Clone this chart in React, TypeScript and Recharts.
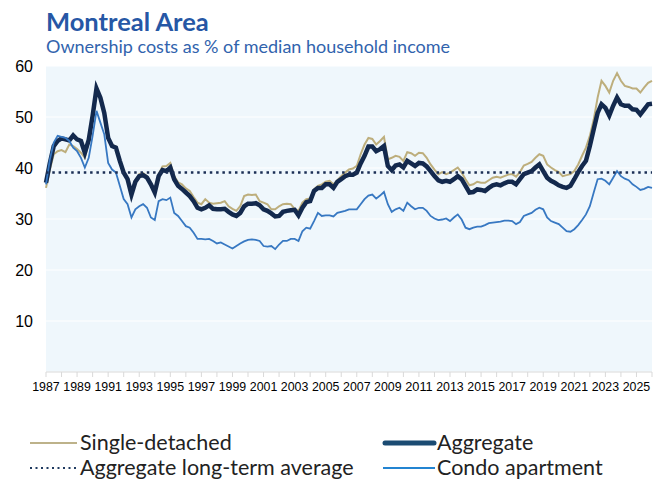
import { LineChart, Line, XAxis, YAxis, CartesianGrid, ReferenceLine } from 'recharts'

const START_YEAR = 1987

// quarterly values, 1987Q1 onward
const singleDetached = [
  36.1, 39.7, 42.7, 43.3, 43.5, 43.1, 44.6, 44.3, 43.7, 43.0, 42.0, 45.0, 49.9, 55.1, 53.5, 50.5, 45.9, 44.5, 44.2, 41.6,
  39.3, 38.0, 35.0, 37.6, 38.8, 39.0, 38.4, 37.0, 35.4, 38.8, 40.3, 40.4, 41.0, 38.4, 37.2, 36.8, 36.0, 35.5, 34.3, 33.2,
  32.9, 33.9, 33.2, 33.0, 33.1, 33.2, 33.5, 32.5, 32.0, 31.6, 32.5, 34.5, 34.8, 34.7, 34.8, 33.5, 33.2, 32.9, 31.9, 31.9,
  32.5, 32.9, 33.0, 32.9, 32.0, 31.6, 33.2, 33.9, 34.0, 35.8, 36.5, 36.8, 37.3, 37.5, 36.8, 37.6, 38.4, 39.1, 39.7, 39.9,
  40.4, 42.7, 44.6, 45.9, 45.7, 44.6, 45.3, 46.1, 41.7, 42.0, 42.4, 42.2, 41.4, 43.1, 42.9, 42.4, 43.0, 42.9, 42.0, 40.7,
  39.7, 38.8, 39.2, 38.8, 39.1, 39.6, 40.1, 39.1, 37.8, 36.6, 36.8, 37.3, 37.1, 37.1, 37.6, 38.1, 38.3, 38.1, 38.4, 38.7,
  38.8, 38.3, 39.2, 40.5, 40.8, 41.2, 42.0, 42.7, 42.4, 40.7, 40.1, 39.6, 39.2, 38.4, 38.6, 38.8, 39.4, 40.7, 42.4, 44.0,
  46.3, 49.5, 53.8, 57.1, 56.1, 54.8, 57.1, 58.6, 57.1, 56.1, 55.9, 55.6, 55.6, 54.8, 55.8, 56.7, 57.1,
]

const aggregate = [
  37.1, 41.0, 44.3, 45.3, 45.8, 45.6, 45.4, 46.4, 45.6, 45.3, 43.0, 45.5, 50.2, 55.6, 53.8, 50.8, 45.9, 44.3, 44.0, 41.4,
  39.1, 37.8, 34.8, 37.3, 38.4, 38.6, 38.1, 36.8, 35.2, 38.4, 39.6, 39.4, 40.1, 37.8, 36.5, 35.9, 35.2, 34.5, 33.5, 32.2,
  31.9, 32.2, 32.7, 32.0, 31.9, 31.9, 32.0, 31.4, 30.9, 30.6, 31.2, 32.5, 33.0, 33.0, 33.1, 32.7, 31.9, 31.6, 31.1, 30.5,
  30.6, 31.4, 31.6, 31.7, 31.8, 30.7, 32.2, 33.3, 33.5, 35.5, 36.1, 36.1, 36.8, 36.8, 36.1, 37.3, 37.8, 38.4, 38.7, 38.7,
  39.1, 40.9, 42.4, 44.2, 44.2, 43.3, 43.7, 44.3, 40.4, 39.6, 40.5, 40.7, 40.1, 41.4, 40.9, 40.4, 41.0, 40.9, 40.3, 39.4,
  38.4, 37.6, 37.3, 37.5, 37.3, 37.8, 38.4, 37.8, 36.5, 35.2, 35.3, 35.8, 35.7, 35.5, 36.1, 36.6, 36.8, 36.6, 37.0, 37.3,
  37.3, 36.8, 37.8, 38.8, 39.1, 39.4, 40.1, 40.7, 39.4, 38.1, 37.5, 37.1, 36.6, 36.3, 36.1, 36.5, 37.8, 39.2, 40.4, 41.4,
  44.3, 47.6, 50.8, 52.5, 51.8, 50.3, 52.2, 53.8, 52.5, 52.2, 52.2, 51.5, 51.4, 50.5, 51.5, 52.5, 52.6,
]

const condoApartment = [
  36.8, 41.7, 45.0, 46.3, 46.1, 45.9, 45.3, 44.0, 43.3, 42.0, 40.1, 42.0, 46.3, 51.2, 48.9, 46.6, 41.0, 39.7, 39.1, 36.5,
  33.9, 32.9, 30.3, 31.9, 32.5, 32.9, 32.2, 30.3, 29.8, 33.5, 33.9, 33.7, 34.2, 31.2, 30.6, 29.6, 28.6, 28.3, 27.3, 26.1,
  26.1, 26.0, 26.1, 25.7, 25.2, 25.4, 25.0, 24.6, 24.2, 24.7, 25.2, 25.6, 25.9, 26.0, 25.9, 25.7, 24.7, 24.6, 24.7, 24.1,
  25.0, 25.7, 25.7, 26.1, 26.1, 25.7, 27.6, 28.3, 28.1, 29.6, 31.2, 30.6, 30.7, 30.7, 30.5, 31.2, 31.4, 31.6, 31.9, 31.9,
  31.9, 32.9, 33.9, 34.6, 34.8, 34.0, 34.6, 35.3, 32.9, 31.4, 31.9, 32.2, 31.6, 33.2, 32.5, 31.9, 32.2, 32.2, 31.6, 30.6,
  30.1, 29.8, 29.9, 30.1, 29.6, 30.3, 30.9, 29.9, 28.3, 28.0, 28.3, 28.5, 28.5, 28.8, 29.2, 29.3, 29.4, 29.5, 29.7, 29.7,
  29.6, 29.0, 29.4, 30.6, 30.9, 31.2, 31.8, 32.2, 31.9, 30.3, 29.6, 29.3, 29.0, 28.3, 27.6, 27.5, 28.0, 28.8, 29.8, 30.9,
  32.5, 35.2, 37.8, 37.9, 37.5, 36.8, 38.1, 39.4, 38.4, 37.9, 37.6, 36.8, 36.3, 35.7, 35.9, 36.3, 36.1,
]

const LONG_TERM_AVERAGE = 39.1

const yTicks = [0, 10, 20, 30, 40, 50, 60]
const xTicks: number[] = []
for (let y = 1987; y <= 2026; y++) xTicks.push(y)

const data = aggregate.map((v, i) => ({
  t: START_YEAR + i / 4,
  single: singleDetached[i],
  aggregate: v,
  condo: condoApartment[i],
}))

const TITLE_FONT = 'Lato, "Open Sans", sans-serif'

// narrow year labels, every other year
function YearTick(props: any) {
  const { x, y, payload } = props
  if (payload.value % 2 !== 1) return null
  return (
    <text
      x={x}
      y={y + 12}
      textAnchor="middle"
      fontFamily='"Liberation Sans", sans-serif'
      fontSize={13}
      fill="#000"
      textLength={27.5}
      lengthAdjust="spacingAndGlyphs"
    >
      {payload.value}
    </text>
  )
}

export default function App() {
  return (
    <div style={{ position: 'absolute', left: 0, top: 0, width: 662, height: 479, background: '#fff' }}>
      <LineChart width={662} height={479} data={data} margin={{ top: 66, right: 10, bottom: 77, left: 0 }}>
        <CartesianGrid vertical={false} fill="#EFF7FC" stroke="#FFFFFF" horizontalValues={yTicks} />
        <XAxis
          type="number"
          dataKey="t"
          domain={[1987, 2026]}
          ticks={xTicks}
          interval={0}
          height={30}
          stroke="#D9D9D9"
          tickSize={5}
          tickMargin={2}
          tick={<YearTick />}
        />
        <YAxis
          domain={[0, 60]}
          ticks={yTicks}
          width={46}
          axisLine={false}
          tickLine={false}
          tickSize={0}
          tickMargin={13}
          tickFormatter={(v: number) => (v === 0 ? '' : String(v))}
          tick={{ fill: '#000', fontSize: 16, fontFamily: '"Liberation Sans", sans-serif' }}
        />
        <Line type="linear" dataKey="single" stroke="#BDAE7C" strokeWidth={2} dot={false} isAnimationActive={false} />
        <Line type="linear" dataKey="aggregate" stroke="#13294D" strokeWidth={4.5} dot={false} isAnimationActive={false} />
        <Line type="linear" dataKey="condo" stroke="#3778C2" strokeWidth={1.8} dot={false} isAnimationActive={false} />
        <ReferenceLine y={LONG_TERM_AVERAGE} stroke="#1B2F55" strokeWidth={2.5} strokeDasharray="2.5 3.8" />
      </LineChart>

      <svg width={662} height={479} style={{ position: 'absolute', left: 0, top: 0, pointerEvents: 'none' }}>
        <text x={46} y={31} fontFamily={TITLE_FONT} fontWeight="bold" fontSize={25.5} fill="#2657A5">
          Montreal Area
        </text>
        <text x={46} y={53} fontFamily={TITLE_FONT} fontSize={18} fill="#3163AD">
          Ownership costs as % of median household income
        </text>

        <g fontFamily={TITLE_FONT} fontSize={21.5} fill="#222">
          <line x1={30} x2={77} y1={443} y2={443} stroke="#BDB28A" strokeWidth={2} />
          <text x={80} y={450}>Single-detached</text>
          <line x1={30} x2={77} y1={468} y2={468} stroke="#1F3A60" strokeWidth={2} strokeDasharray="2 3.5" />
          <text x={80} y={475}>Aggregate long-term average</text>
          <line x1={385} x2={434} y1={443} y2={443} stroke="#1B4B72" strokeWidth={5} strokeLinecap="round" />
          <text x={437} y={450}>Aggregate</text>
          <line x1={383} x2={435} y1={468} y2={468} stroke="#2384D1" strokeWidth={2} />
          <text x={437} y={475}>Condo apartment</text>
        </g>
      </svg>
    </div>
  )
}
